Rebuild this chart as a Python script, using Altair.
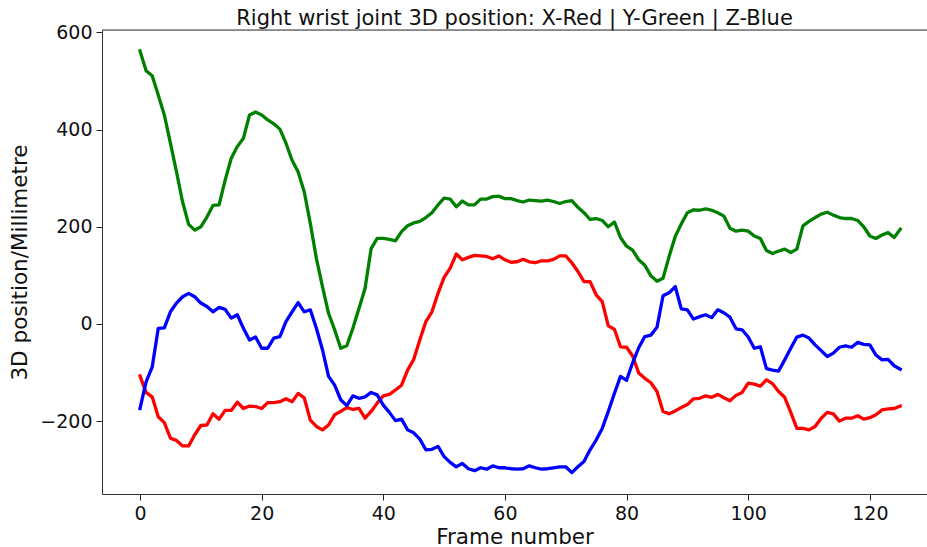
import altair as alt
import pandas as pd

# Right wrist 3D position per frame (millimetres)
frames = list(range(126))

x_red = [
    -107, -141, -150, -191, -203, -235, -240, -251, -251, -228,
    -209, -208, -185, -196, -178, -178, -161, -174, -169, -170,
    -174, -162, -162, -160, -154, -160, -143, -152, -198, -211,
    -218, -208, -187, -180, -172, -176, -174, -194, -180, -163,
    -148, -145, -136, -126, -95, -73, -33, 5, 25, 63,
    96, 115, 144, 132, 137, 141, 140, 139, 134, 140,
    132, 127, 128, 133, 128, 126, 130, 130, 133, 140,
    140, 126, 108, 87, 87, 60, 46, -4, -11, -47,
    -48, -66, -101, -112, -121, -139, -180, -185, -179, -172,
    -166, -154, -153, -148, -151, -145, -152, -158, -147, -141,
    -122, -124, -128, -115, -123, -139, -151, -182, -215, -215,
    -218, -211, -194, -182, -185, -200, -194, -194, -189, -196,
    -193, -187, -177, -175, -174, -169,
]

y_green = [
    562, 521, 511, 471, 430, 372, 313, 251, 205, 193,
    200, 220, 244, 245, 296, 341, 365, 382, 430, 436,
    430, 420, 412, 401, 372, 337, 313, 272, 207, 135,
    77, 22, -12, -50, -45, -9, 32, 73, 155, 176,
    176, 174, 171, 190, 202, 208, 211, 219, 229, 245,
    259, 257, 241, 253, 245, 245, 257, 257, 262, 263,
    258, 258, 254, 251, 255, 254, 253, 255, 252, 248,
    252, 254, 240, 229, 215, 217, 213, 200, 210, 178,
    160, 152, 132, 121, 99, 88, 94, 139, 180, 206,
    229, 235, 234, 237, 234, 229, 222, 197, 191, 193,
    191, 181, 176, 151, 145, 150, 154, 147, 154, 202,
    211, 219, 226, 230, 224, 219, 217, 217, 213, 200,
    181, 176, 183, 188, 178, 195,
]

z_blue = [
    -174, -119, -89, -9, -8, 25, 43, 56, 63, 56,
    43, 36, 25, 34, 30, 12, 19, -9, -33, -27,
    -50, -50, -29, -26, 5, 25, 44, 25, 29, -9,
    -53, -108, -126, -156, -168, -148, -153, -150, -141, -146,
    -167, -182, -199, -196, -218, -224, -237, -259, -258, -252,
    -273, -285, -294, -287, -298, -302, -296, -299, -292, -296,
    -296, -298, -299, -298, -292, -296, -299, -298, -296, -294,
    -294, -306, -294, -283, -259, -239, -215, -180, -143, -108,
    -116, -80, -49, -26, -23, -7, 58, 64, 77, 31,
    29, 10, 15, 19, 13, 29, 23, 14, -10, -12,
    -27, -50, -47, -92, -95, -97, -74, -50, -27, -23,
    -29, -43, -55, -67, -60, -48, -45, -48, -38, -42,
    -43, -64, -74, -73, -86, -93,
]

series_names = ["X", "Y", "Z"]
series_colors = ["#ff0000", "#008000", "#0000ff"]

rows = []
for name, values in zip(series_names, [x_red, y_green, z_blue]):
    for f, v in zip(frames, values):
        rows.append({"frame": f, "value": v, "axis": name})
df = pd.DataFrame(rows)

FONT = "DejaVu Sans"

x_scale = alt.Scale(domain=[-6.25, 129.4], nice=False, zero=False)
y_scale = alt.Scale(domain=[-350, 605], nice=False, zero=False)

lines = alt.Chart(df).mark_line(
    strokeWidth=3.3, strokeJoin="round", strokeCap="square", clip=True
).encode(
    x=alt.X(
        "frame:Q",
        scale=x_scale,
        axis=alt.Axis(
            title="Frame number",
            values=[0, 20, 40, 60, 80, 100, 120],
            grid=False,
            tickSize=6,
            tickColor="#222",
            tickWidth=1,
            domainColor="#333",
            domainWidth=1,
            labelFont=FONT,
            labelFontSize=19,
            labelColor="#111",
            labelPadding=4,
            titleFont=FONT,
            titleFontSize=21.5,
            titleFontWeight="normal",
            titleColor="#111",
            titlePadding=3,
        ),
    ),
    y=alt.Y(
        "value:Q",
        scale=y_scale,
        axis=alt.Axis(
            title="3D position/Millimetre",
            values=[-200, 0, 200, 400, 600],
            labelExpr="replace(datum.label, '-', '\u2212')",
            format="d",
            grid=False,
            tickSize=6,
            tickColor="#222",
            tickWidth=1,
            domainColor="#333",
            domainWidth=1,
            labelFont=FONT,
            labelFontSize=19,
            labelColor="#111",
            labelPadding=4,
            titleFont=FONT,
            titleFontSize=21.5,
            titleFontWeight="normal",
            titleColor="#111",
            titlePadding=8,
        ),
    ),
    color=alt.Color(
        "axis:N",
        scale=alt.Scale(domain=series_names, range=series_colors),
        legend=None,
    ),
    order=alt.Order("frame:Q"),
)

# Top spine of the frame
top_spine = alt.Chart(pd.DataFrame({"y": [605]})).mark_rule(
    color="#333", strokeWidth=1
).encode(y=alt.Y("y:Q", scale=y_scale))

chart = alt.layer(lines, top_spine).properties(
    width=825,
    height=464,
    autosize=alt.AutoSizeParams(type="none"),
    padding={"left": 102, "top": 30, "right": 0, "bottom": 53},
    title=alt.TitleParams(
        "Right wrist joint 3D position: X-Red | Y-Green | Z-Blue",
        font=FONT,
        fontSize=21,
        fontWeight="normal",
        color="#111",
        anchor="middle",
        frame="group",
        offset=0,
        dy=6,
    ),
).configure_view(stroke=None).configure(background="white")

chart.save("out.html", embed_options={"renderer": "svg", "actions": False})
